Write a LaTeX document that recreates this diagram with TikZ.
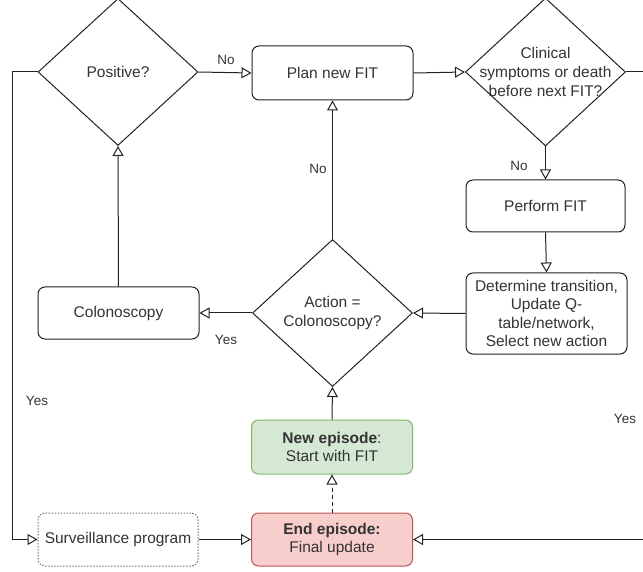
\documentclass[tikz,border=0pt]{standalone}
\usepackage{fontspec}
\setmainfont{Liberation Sans}
\usetikzlibrary{arrows.meta,shapes.geometric}
\definecolor{txt}{HTML}{333333}
\definecolor{lc}{HTML}{222222}
\definecolor{gfill}{HTML}{D5E8D4}
\definecolor{gline}{HTML}{82B366}
\definecolor{rfill}{HTML}{F8CECC}
\definecolor{rline}{HTML}{B85450}
\definecolor{dotc}{HTML}{777777}
\begin{document}
\begin{tikzpicture}[x=1pt,y=-1pt,
  box/.style={draw=lc, rounded corners=7pt, minimum width=161pt, minimum height=53pt, inner sep=2pt, align=center, text=txt, font=\fontsize{15.5}{18.5}\selectfont, line width=1pt},
  dia/.style={draw=lc, diamond, minimum width=160pt, minimum height=147pt, inner sep=0pt, line width=1pt},
  dtxt/.style={align=center, text=txt, font=\fontsize{15.5}{19}\selectfont, inner sep=0pt},
  lbl/.style={text=txt, font=\fontsize{13.5}{16}\selectfont, inner sep=0pt},
  arr/.style={-{Triangle[open,length=10pt,width=11pt]}, line width=1pt, draw=lc}]
\useasboundingbox (0,0) rectangle (643,572);
% nodes
\node[dia] (pos) at (118,72) {};
\node[dtxt] (post) at (pos) {Positive?};
\node[box, minimum height=54pt] (plan) at (332.5,73) {Plan new FIT};
\node[dia, minimum height=148pt] (clin) at (545.5,72) {};
\node[dtxt] (clint) at (clin) {Clinical\\symptoms or death\\before next FIT?};
\node[box, minimum width=159pt, minimum height=52pt] (perf) at (545.5,206) {Perform FIT};
\node[box, minimum height=81pt, inner sep=1pt] (det) at (546.5,313.5) {Determine transition,\\Update Q-\\table/network,\\Select new action};
\node[dia] (act) at (332.5,313) {};
\node[dtxt] (actt) at (act) {Action =\\Colonoscopy?};
\node[box, minimum height=52pt] (colo) at (118.5,313) {Colonoscopy};
\node[box, draw=gline, fill=gfill, minimum height=54pt] (new) at (332,447) {\textbf{New episode}:\\Start with FIT};
\node[box, draw=rline, fill=rfill, minimum height=53pt] (end) at (332,539.5) {\textbf{End episode:}\\Final update};
\node[box, draw=dotc, dash pattern=on 1.5pt off 1.5pt, minimum width=160pt] (surv) at (118,539.5) {Surveillance program};
% connectors
\draw[arr] (pos.east) -- (plan.west);
\draw[arr] (plan.east) -- (clin.west);
\draw[arr] (clin.south) -- (perf.north);
\draw[arr] (perf.south) -- (det.north);
\draw[arr] (det.west) -- (act.east);
\draw[arr] (act.west) -- (colo.east);
\draw[arr] (colo.north) -- (pos.south);
\draw[arr] (act.north) -- (plan.south);
\draw[arr] (new.north) -- (act.south);
\draw[arr, dash pattern=on 4pt off 3pt] (end.north) -- (new.south);
\draw[arr] (surv.east) -- (end.west);
\coordinate (lft) at (12,72);
\draw[arr] (pos.west) -- (lft) |- (surv.west);
\coordinate (rgt) at (652,72);
\draw[arr] (clin.east) -- (rgt) |- (end.east);
% labels
\node[lbl] (l1) at (226,60) {No};
\node[lbl] (l2) at (318,169) {No};
\node[lbl] (l3) at (519,166) {No};
\node[lbl] (l4) at (226,340) {Yes};
\node[lbl] (l5) at (37,401) {Yes};
\node[lbl] (l6) at (625,419) {Yes};
\end{tikzpicture}
\end{document}
